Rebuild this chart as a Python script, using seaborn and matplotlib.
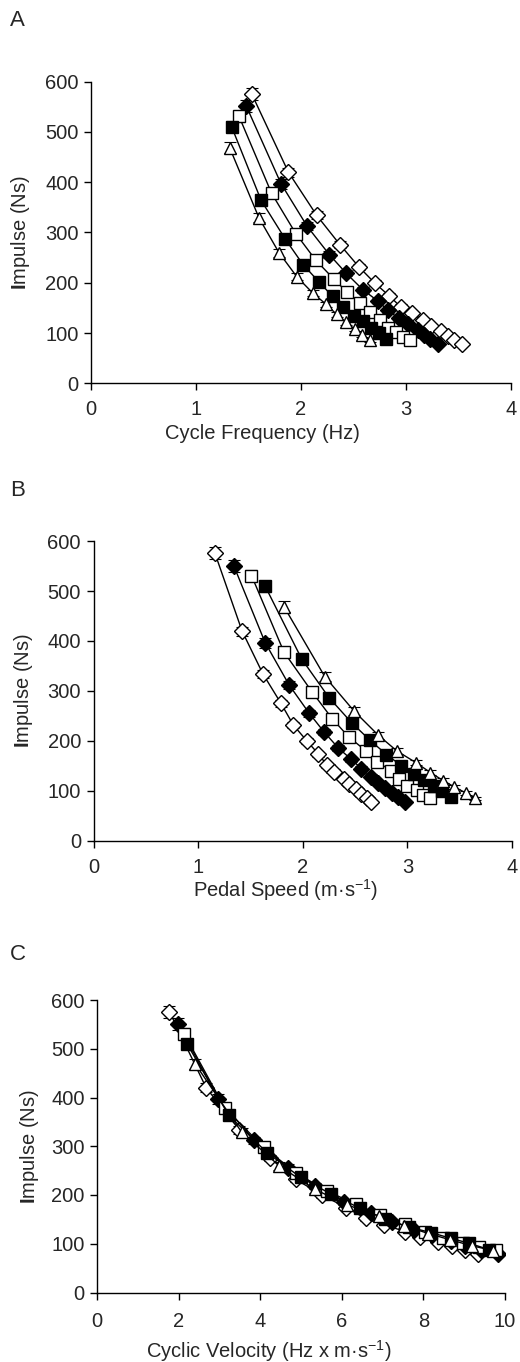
import numpy as np
import pandas as pd
import matplotlib
matplotlib.use("Agg")
import matplotlib.pyplot as plt
import seaborn as sns

# ---------------- data ----------------
series_names = ["open_diamond", "filled_diamond", "open_square", "filled_square", "open_triangle"]

imp_od = [576, 420, 334, 276, 232, 200, 174, 152, 139, 125, 114, 104, 95, 87, 78]
freq_od = [1.53, 1.88, 2.15, 2.37, 2.55, 2.70, 2.84, 2.95, 3.06, 3.16, 3.24, 3.33, 3.40, 3.46, 3.53]
speed_od = [1.16, 1.42, 1.62, 1.79, 1.91, 2.04, 2.15, 2.23, 2.30, 2.39, 2.44, 2.51, 2.56, 2.61, 2.65]
cv_od = [1.77, 2.67, 3.48, 4.24, 4.87, 5.51, 6.11, 6.58, 7.04, 7.55, 7.91, 8.36, 8.70, 9.03, 9.35]
err_od = [12, 9, 8, 7, 6, 6, 5, 5, 5, 4, 4, 4, 4, 3, 3]

imp_fd = [551, 397, 312, 256, 219, 186, 164, 145, 129, 117, 106, 96, 88, 78]
freq_fd = [1.48, 1.81, 2.06, 2.27, 2.43, 2.59, 2.73, 2.83, 2.93, 3.02, 3.11, 3.17, 3.23, 3.30]
speed_fd = [1.34, 1.64, 1.87, 2.06, 2.20, 2.34, 2.46, 2.56, 2.65, 2.72, 2.79, 2.85, 2.91, 2.98]
cv_fd = [1.98, 2.97, 3.85, 4.68, 5.35, 6.06, 6.72, 7.24, 7.76, 8.21, 8.68, 9.03, 9.40, 9.83]
err_fd = [12, 10, 8, 7, 6, 6, 5, 5, 5, 4, 4, 4, 3, 3]

imp_os = [531, 378, 298, 245, 208, 181, 159, 141, 125, 111, 102, 93, 87]
freq_os = [1.41, 1.72, 1.95, 2.14, 2.31, 2.44, 2.56, 2.66, 2.75, 2.83, 2.90, 2.97, 3.04]
speed_os = [1.51, 1.82, 2.09, 2.28, 2.44, 2.60, 2.71, 2.84, 2.92, 3.00, 3.09, 3.15, 3.22]
cv_os = [2.13, 3.13, 4.08, 4.88, 5.64, 6.34, 6.94, 7.55, 8.03, 8.49, 8.96, 9.36, 9.79]
err_os = [11, 9, 8, 7, 6, 6, 5, 5, 5, 4, 4, 4, 3]

imp_fs = [510, 364, 287, 236, 202, 173, 151, 134, 123, 111, 101, 88]
freq_fs = [1.34, 1.62, 1.85, 2.02, 2.17, 2.30, 2.40, 2.50, 2.59, 2.67, 2.74, 2.81]
speed_fs = [1.64, 1.99, 2.25, 2.47, 2.64, 2.80, 2.94, 3.06, 3.16, 3.25, 3.33, 3.42]
cv_fs = [2.20, 3.22, 4.16, 4.99, 5.73, 6.44, 7.06, 7.65, 8.18, 8.68, 9.12, 9.61]
err_fs = [11, 9, 8, 7, 6, 6, 5, 5, 4, 4, 4, 3]

imp_ot = [469, 329, 260, 212, 180, 157, 137, 121, 108, 96, 86]
freq_ot = [1.32, 1.60, 1.79, 1.96, 2.11, 2.24, 2.34, 2.43, 2.51, 2.58, 2.66]
speed_ot = [1.82, 2.21, 2.49, 2.72, 2.90, 3.08, 3.22, 3.34, 3.45, 3.56, 3.65]
cv_ot = [2.40, 3.54, 4.46, 5.33, 6.12, 6.90, 7.53, 8.12, 8.66, 9.18, 9.71]
err_ot = [11, 9, 8, 7, 6, 5, 5, 5, 4, 4, 3]

y_ticks = [0, 100, 200, 300, 400, 500, 600]
x_ticks_ab = [0, 1, 2, 3, 4]
x_ticks_c = [0, 2, 4, 6, 8, 10]

# ---------------- build long table ----------------
rows = []
for name, imp, f, s, c, e in [
    ("open_diamond", imp_od, freq_od, speed_od, cv_od, err_od),
    ("filled_diamond", imp_fd, freq_fd, speed_fd, cv_fd, err_fd),
    ("open_square", imp_os, freq_os, speed_os, cv_os, err_os),
    ("filled_square", imp_fs, freq_fs, speed_fs, cv_fs, err_fs),
    ("open_triangle", imp_ot, freq_ot, speed_ot, cv_ot, err_ot),
]:
    for i in range(len(imp)):
        rows.append(dict(series=name, idx=i, impulse=imp[i], freq=f[i],
                         speed=s[i], cv=c[i], err=e[i]))
df = pd.DataFrame(rows)

styles = {
    "open_diamond": dict(marker="D", markersize=7.8, markerfacecolor="white"),
    "filled_diamond": dict(marker="D", markersize=7.8, markerfacecolor="black"),
    "open_square": dict(marker="s", markersize=8, markerfacecolor="white"),
    "filled_square": dict(marker="s", markersize=8, markerfacecolor="black"),
    "open_triangle": dict(marker="^", markersize=9, markerfacecolor="white"),
}

# ---------------- style ----------------
sns.set_style("ticks")
plt.rcParams["font.family"] = ["Liberation Sans", "DejaVu Sans"]
plt.rcParams["mathtext.fontset"] = "custom"
plt.rcParams["mathtext.rm"] = "Liberation Sans"
plt.rcParams["mathtext.it"] = "Liberation Sans:italic"
plt.rcParams["mathtext.bf"] = "Liberation Sans:bold"
plt.rcParams["mathtext.default"] = "regular"

FS = 14.5

fig = plt.figure(figsize=(5.2, 13.62), dpi=100)

W, H = 520.0, 1362.0
def axes_px(left, right, top, bottom):
    return fig.add_axes([left / W, 1 - bottom / H, (right - left) / W, (bottom - top) / H])

axA = axes_px(91, 511, 81.7, 383.3)
axB = axes_px(93.5, 512, 541, 841)
axC = axes_px(97.3, 505, 1000, 1292.5)

# (axes, x column, x label, x limits, x ticks, label centre x (axes frac),
#  label centre below axis (px), x tick pad (pt), axes height (px))
panels = [
    (axA, "freq", "Cycle Frequency (Hz)", (0, 4), x_ticks_ab, 0.407, 50, 7, 301.6),
    (axB, "speed", "Pedal Speed (m·s$^{-1}$)", (0, 4), x_ticks_ab, 0.458, 49, 7, 300.0),
    (axC, "cv", "Cyclic Velocity (Hz x m·s$^{-1}$)", (0, 10), x_ticks_c, 0.421, 59, 9, 292.5),
]

for ax, xcol, xlabel, xlim, xt, xlab_pos, xlab_off, xpad, hpx in panels:
    for name in series_names:
        sub = df[df.series == name]
        ax.errorbar(sub[xcol], sub["impulse"], yerr=sub["err"], fmt="none",
                    ecolor="black", elinewidth=0.8, capsize=4.5, capthick=0.8,
                    zorder=2)
        sns.lineplot(data=sub, x=xcol, y="impulse", sort=False, estimator=None,
                     color="black", lw=1.0, markeredgecolor="black",
                     markeredgewidth=1.0, ax=ax, zorder=3, **styles[name])
    ax.set_xlim(*xlim)
    ax.set_ylim(0, 600)
    ax.set_xticks(xt)
    ax.set_yticks(y_ticks)
    ax.set_xlabel(xlabel, fontsize=FS)
    ax.set_ylabel(r"$\mathbf{I}$mpulse (Ns)", fontsize=FS)
    ax.tick_params(axis="both", labelsize=FS, length=5, width=1, color="black",
                   direction="out")
    ax.tick_params(axis="x", pad=xpad)
    ax.tick_params(axis="y", pad=4)
    ax.xaxis.set_label_coords(xlab_pos, -xlab_off / hpx)
    ax.xaxis.label.set_va("center")
    ax.yaxis.set_label_coords(-70 / 420, 0.5)
    ax.yaxis.label.set_va("center")
    for sp in ["left", "bottom"]:
        ax.spines[sp].set_linewidth(1.0)
        ax.spines[sp].set_color("black")
    sns.despine(ax=ax)
    ax.grid(False)

fig.text(10 / W, 1 - 20 / H, "A", fontsize=16, va="center", ha="left")
fig.text(10 / W, 1 - 490 / H, "B", fontsize=16, va="center", ha="left")
fig.text(10 / W, 1 - 955 / H, "C", fontsize=16, va="center", ha="left")

fig.savefig("out.png", dpi=100)
